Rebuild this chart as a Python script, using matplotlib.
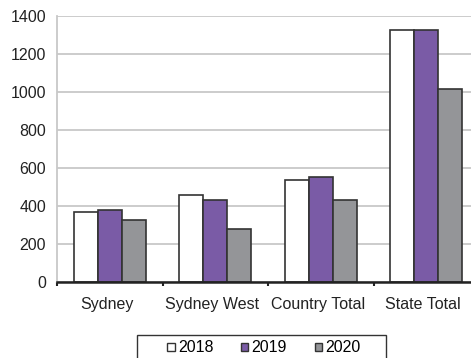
import matplotlib
matplotlib.use("Agg")
import matplotlib.pyplot as plt
import matplotlib.transforms as mtransforms
import numpy as np
from matplotlib.patches import Patch, Rectangle

categories = ["Sydney", "Sydney West", "Country Total", "State Total"]
years = ["2018", "2019", "2020"]
values_2018 = [367, 458, 537, 1326]
values_2019 = [380, 432, 551, 1326]
values_2020 = [327, 276, 432, 1015]
y_ticks = [0, 200, 400, 600, 800, 1000, 1200, 1400]

colors = ["#ffffff", "#7a5ba6", "#949598"]
edge = "#333333"

plt.rcParams["font.family"] = ["Liberation Sans", "DejaVu Sans"]

W, H = 471, 358
fig = plt.figure(figsize=(W / 100, H / 100), dpi=100)
ax = fig.add_axes([57 / W, (H - 282) / H, 422 / W, 266.5 / H])

x = np.arange(len(categories))
bw = 0.228
series = [values_2018, values_2019, values_2020]
for i, vals in enumerate(series):
    ax.bar(x + (i - 1) * bw, vals, bw, color=colors[i], edgecolor=edge,
           linewidth=1.2, zorder=3)

ax.set_xlim(-0.5, len(categories) - 0.5)
ax.set_ylim(0, 1400)
ax.set_yticks(y_ticks)
ax.set_yticklabels([str(t) for t in y_ticks], fontsize=11.5, color="#222222")
ax.tick_params(axis="y", length=0, pad=8)
ax.yaxis.grid(True, color="#c8c8c8", linewidth=1.3, zorder=0)
ax.set_axisbelow(True)

# category boundary ticks on the baseline, labels centred between them
ax.set_xticks(np.arange(len(categories) + 1) - 0.5)
ax.set_xticklabels([])
ax.set_xticks(x, minor=True)
ax.set_xticklabels(categories, minor=True, fontsize=11.5, color="#222222")
ax.tick_params(axis="x", which="major", length=3, width=1.5, color="#222222")
ax.tick_params(axis="x", which="minor", length=0, pad=11)
shift = mtransforms.ScaledTranslation(-3 / 100, 0, fig.dpi_scale_trans)
for lbl in ax.get_xticklabels(minor=True):
    lbl.set_transform(lbl.get_transform() + shift)

for s in ["top", "right"]:
    ax.spines[s].set_visible(False)
ax.spines["left"].set_color("#c8c8c8")
ax.spines["left"].set_linewidth(1.3)
ax.spines["bottom"].set_color("#222222")
ax.spines["bottom"].set_linewidth(1.8)
ax.spines["bottom"].set_zorder(4)

# legend entries, with a plain box drawn around them
handles = [Patch(facecolor=c, edgecolor=edge, linewidth=1.0) for c in colors]
leg = fig.legend(handles, years, loc="center",
                 bbox_to_anchor=(264 / W, 1 - 348 / H), ncol=3,
                 frameon=False, fontsize=11.5,
                 handlelength=0.45, handleheight=0.45, handletextpad=0.2,
                 columnspacing=1.75, borderpad=0, borderaxespad=0)
fig.patches.append(Rectangle((137 / W, -0.05), (386 - 137) / W, 0.05 + (H - 335) / H,
                             transform=fig.transFigure, fill=False,
                             edgecolor="#333333", linewidth=1.0))

fig.savefig("out.png", dpi=100)
